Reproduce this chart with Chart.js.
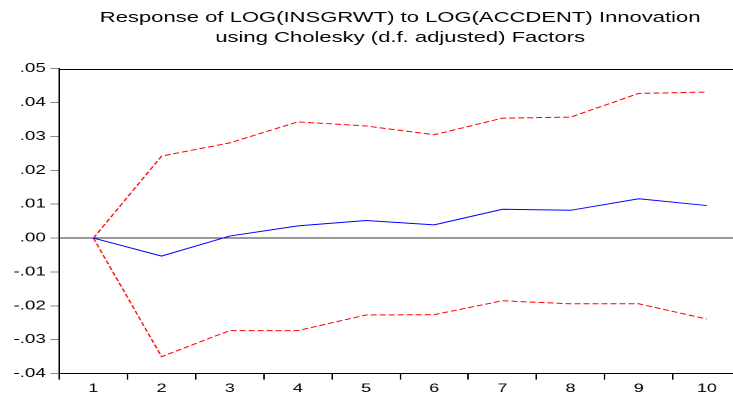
<!DOCTYPE html>
<html>
<head>
<meta charset="utf-8">
<script src="https://cdn.jsdelivr.net/npm/chart.js@4"></script>
<style>
  html, body { margin: 0; padding: 0; background: #fff; overflow: hidden; }
  #wrap { width: 733px; height: 397px; overflow: hidden; position: relative; }
  /* the reference graph is stretched sideways, so the canvas is too */
  #chart { transform: scaleX(1.5); transform-origin: 0 0; }
</style>
</head>
<body>
<div id="wrap"><canvas id="chart"></canvas></div>
<script>
// impulse response periods
const periods = ['1', '2', '3', '4', '5', '6', '7', '8', '9', '10'];

// response of LOG(INSGRWT) to a LOG(ACCDENT) shock
const response = [0.0000, -0.0053, 0.0006, 0.0036, 0.0052, 0.0039, 0.0085, 0.0082, 0.0116, 0.0096];

// +/- 2 S.E. bands
const upperBand = [0.0000, 0.0242, 0.0281, 0.0343, 0.0331, 0.0305, 0.0354, 0.0357, 0.0427, 0.0431];
const lowerBand = [0.0000, -0.0350, -0.0273, -0.0273, -0.0227, -0.0226, -0.0185, -0.0194, -0.0194, -0.0239];

const titleLines = [
    'Response of LOG(INSGRWT) to LOG(ACCDENT) Innovation',
    'using Cholesky (d.f. adjusted) Factors'
];

const yMin = -0.04;
const yMax = 0.05;
const yStep = 0.01;

const fontName = '"Liberation Sans", Arial, sans-serif';

// EViews style: ".05", "-.01"
function eviewsTick(v) {
    let s = v.toFixed(2);
    return s.replace('0.', '.');
}

// frame line on top of the plot area
const framePlugin = {
    id: 'frame',
    afterDraw(chart) {
        let a = chart.chartArea;
        let c = chart.ctx;
        c.save();
        c.strokeStyle = '#000';
        c.lineWidth = 1;
        c.beginPath();
        c.moveTo(a.left, Math.round(a.top) + 0.5);
        c.lineTo(a.right, Math.round(a.top) + 0.5);
        c.stroke();
        c.restore();
    }
};

let ctx = document.getElementById('chart');
ctx.width = 500;
ctx.height = 397;

let chart = new Chart(ctx, {
    type: 'line',
    data: {
        labels: periods,
        datasets: [
            {
                label: 'Response',
                data: response,
                borderColor: '#0000ff',
                borderWidth: 1,
                pointRadius: 0,
                tension: 0
            },
            {
                label: 'Upper',
                data: upperBand,
                borderColor: '#ff0000',
                borderWidth: 1,
                borderDash: [4, 2],
                pointRadius: 0,
                tension: 0
            },
            {
                label: 'Lower',
                data: lowerBand,
                borderColor: '#ff0000',
                borderWidth: 1,
                borderDash: [4, 2],
                pointRadius: 0,
                tension: 0
            }
        ]
    },
    options: {
        responsive: false,
        animation: false,
        devicePixelRatio: 2,
        layout: { padding: { left: 6, right: 6, top: 0, bottom: -1 } },
        plugins: {
            legend: { display: false },
            tooltip: { enabled: false },
            title: {
                display: true,
                text: titleLines,
                fullSize: false,
                color: '#000',
                font: { family: fontName, size: 14.7, weight: 'normal', lineHeight: 1.35 },
                padding: { top: 8, bottom: 21 }
            }
        },
        scales: {
            x: {
                type: 'category',
                offset: true,
                grid: {
                    offset: true,
                    drawOnChartArea: false,
                    tickLength: 6,
                    tickColor: '#000'
                },
                border: { color: '#000', width: 1 },
                ticks: {
                    color: '#000',
                    padding: 2,
                    maxRotation: 0,
                    font: { family: fontName, size: 12 }
                }
            },
            y: {
                min: yMin,
                max: yMax,
                grid: {
                    color: (c) => (c.tick && Math.abs(c.tick.value) < 1e-9) ? '#333' : 'rgba(0,0,0,0)',
                    tickColor: '#888',
                    tickLength: 6
                },
                border: { color: '#000', width: 1 },
                ticks: {
                    stepSize: yStep,
                    color: '#000',
                    padding: 3,
                    font: { family: fontName, size: 12.5 },
                    callback: (v) => eviewsTick(v)
                }
            }
        }
    },
    plugins: [framePlugin]
});
</script>
</body>
</html>
